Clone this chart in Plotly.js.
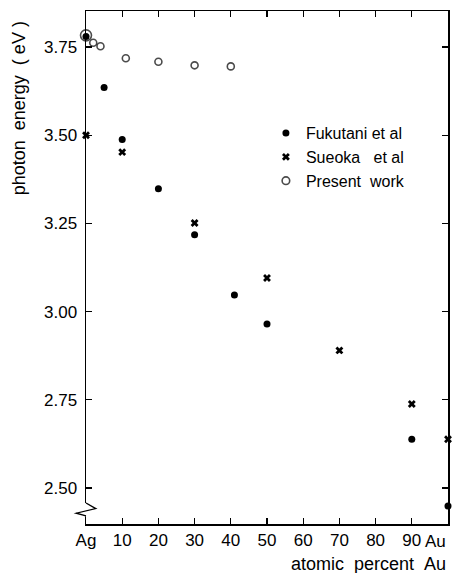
<!DOCTYPE html>
<html>
<head>
<meta charset="utf-8">
<script src="https://cdn.plot.ly/plotly-3.0.1.min.js"></script>
<style>html,body{margin:0;padding:0;background:#fff;}#chart{width:453px;height:573px;}</style>
</head>
<body>
<div id="chart"></div>
<script>
// Data
const fukutaniX = [0, 5, 10, 20, 30, 41, 50, 90, 100];
const fukutaniY = [3.78, 3.635, 3.488, 3.348, 3.218, 3.047, 2.965, 2.638, 2.449];
const sueokaX = [0, 10, 30, 50, 70, 90, 100];
const sueokaY = [3.50, 3.452, 3.251, 3.095, 2.89, 2.738, 2.638];
const presentX = [0, 2, 4, 11, 20, 30, 40];
const presentY = [3.783, 3.762, 3.752, 3.718, 3.708, 3.698, 3.695];
const xTickVals = [0, 10, 20, 30, 40, 50, 60, 70, 80, 90, 100];
const xTickText = ["Ag", "10", "20", "30", "40", "50", "60", "70", "80", "90", "Au"];
const yTickVals = [2.50, 2.75, 3.00, 3.25, 3.50, 3.75];
const seriesNames = ["Fukutani et al", "Sueoka&nbsp;&nbsp;&nbsp;et al", "Present&nbsp;&nbsp;work"];

const FONT = "Liberation Sans, Arial, sans-serif";

const traces = [
  {
    x: presentX, y: presentY, name: seriesNames[2], type: "scatter", mode: "markers",
    cliponaxis: false, legendrank: 3,
    marker: {symbol: "circle", size: presentX.map((v, i) => i === 0 ? 11 : 7), color: "#fff", line: {width: 1.6, color: "#000"}}
  },
  {
    x: fukutaniX, y: fukutaniY, name: seriesNames[0], type: "scatter", mode: "markers",
    cliponaxis: false, legendrank: 1,
    marker: {symbol: "circle", size: 7, color: "#000"}
  },
  {
    x: sueokaX, y: sueokaY, name: seriesNames[1], type: "scatter", mode: "markers",
    cliponaxis: false, legendrank: 2,
    marker: {symbol: "x", size: 7, color: "#000", line: {width: 0}}
  }
];

// last x tick label (at the right end) is drawn right-aligned like the reference
const lastIdx = xTickText.length - 1;
const shownTickText = xTickText.map((t, i) => i === lastIdx ? "" : t);

const layout = {
  width: 453, height: 573,
  margin: {l: 86, r: 5, t: 11, b: 49},
  paper_bgcolor: "#fff", plot_bgcolor: "#fff",
  font: {family: FONT, size: 17, color: "#000"},
  showlegend: true,
  legend: {
    x: 0.497, y: 0.795, xanchor: "left", yanchor: "top",
    bgcolor: "rgba(0,0,0,0)", borderwidth: 0,
    font: {family: FONT, size: 16, color: "#000"},
    tracegroupgap: 0, traceorder: "normal"
  },
  xaxis: {
    range: [0, 100], showgrid: false, zeroline: false,
    showline: true, linecolor: "#000", linewidth: 1.5, mirror: "ticks",
    ticks: "inside", ticklen: 6, tickwidth: 1.2, tickcolor: "#000",
    tickvals: xTickVals, ticktext: shownTickText,
    tickfont: {family: FONT, size: 17, color: "#000"},
    ticklabelstandoff: 0
  },
  yaxis: {
    range: [2.398, 3.852], showgrid: false, zeroline: false,
    showline: true, linecolor: "#000", linewidth: 1.5, mirror: "ticks",
    ticks: "inside", ticklen: 6, tickwidth: 1.2, tickcolor: "#000",
    tickvals: yTickVals, tickformat: ".2f",
    tickfont: {family: FONT, size: 17, color: "#000"},
    ticklabelstandoff: 4
  },
  annotations: [
    {
      text: xTickText[lastIdx], xref: "x", yref: "paper",
      x: xTickVals[lastIdx], y: -0.035, xanchor: "right", yanchor: "middle", showarrow: false,
      font: {family: FONT, size: 17, color: "#000"}
    },
    {
      text: "atomic&nbsp;&nbsp;percent&nbsp;&nbsp;Au", xref: "paper", yref: "paper",
      x: 1.0, y: -0.077, xanchor: "right", yanchor: "middle", showarrow: false,
      font: {family: FONT, size: 18, color: "#000"}
    },
    {
      text: "photon&nbsp;&nbsp;energy&nbsp;&nbsp;(&nbsp;eV&nbsp;)", xref: "paper", yref: "paper",
      x: -0.183, y: 0.81, xanchor: "center", yanchor: "middle", showarrow: false,
      textangle: -90,
      font: {family: FONT, size: 18, color: "#000"}
    }
  ],
  shapes: [
    {type: "rect", xref: "paper", yref: "paper", x0: -0.012, x1: 0.012, y0: 0.015, y1: 0.041,
     fillcolor: "#fff", line: {width: 0}, layer: "above"},
    {type: "path", xref: "paper", yref: "paper",
     path: "M 0 0.041 L 0.027 0.030 L -0.027 0.021 L 0 0.0156",
     line: {color: "#000", width: 1.3}, layer: "above"}
  ]
};

Plotly.newPlot("chart", traces, layout, {staticPlot: true, displayModeBar: false});
</script>
</body>
</html>
